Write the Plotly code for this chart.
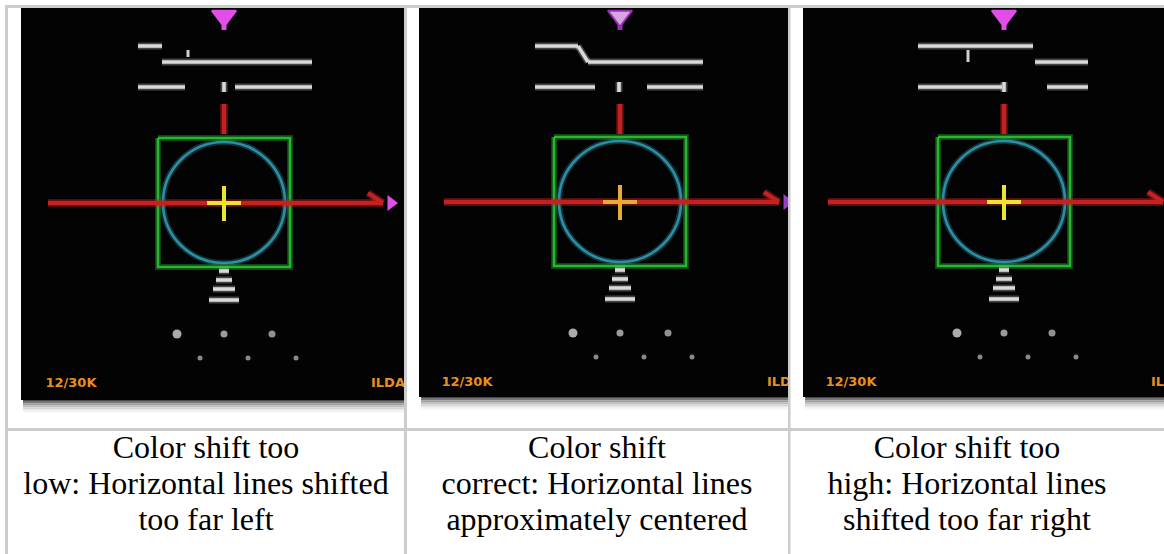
import plotly.graph_objects as go

W, H = 1164, 554

# ---------------- data ----------------
captions = [
    ["Color shift too", "low: Horizontal lines shifted", "too far left"],
    ["Color shift", "correct: Horizontal lines", "approximately centered"],
    ["Color shift too", "high: Horizontal lines", "shifted too far right"],
]
caption_center_x = [206, 597, 967]
caption_line_y = [450, 486, 522]

panel_left = [21, 419, 803]
panel_right = [404, 788, 1164]
panel_bottom = [400, 397, 397]
panel_cx = [224, 620, 1004]
panel_cy = [203, 202, 202]

cross_color = ["#ece62a", "#e8ac34", "#ece62a"]
top_mark_fill = ["#e24ee8", "#d9a4e4", "#e24ee8"]
top_mark_line = ["#e24ee8", "#9a30b4", "#e24ee8"]
side_mark_color = ["#e24ee8", "#9c3cc8", "#e24ee8"]

# horizontal bar ends, relative to panel centre
upper_left_bar = [(-86, -62), (-85, -42), (-86, 29)]
upper_right_bar = [(-62, 88), (-32, 83), (31, 84)]
upper_join = [False, True, False]
upper_tick = [(-36, 50, 57), None, (-36, 50, 62)]
lower_left_bar = [(-86, -39), (-85, -25), (-86, -2)]
lower_right_bar = [(11, 88), (27, 83), (43, 84)]
lower_tick_dx = [0, -1, 0]
upper_y = (46, 62)
lower_y = 87

pyramid_dy = [68, 77, 86, 97]
pyramid_half = [5, 8, 11, 15]
dot_row1_dx = [-47, 0, 48]
dot_row2_dx = [-24, 24, 72]
left_label = ["12/30K", "12/30K", "12/30K"]
right_label = ["ILDA", "ILDA", "ILDA"]

# table grid
grid_color = "#cccccc"
col_borders = [(5, 8), (404, 407), (788, 790.5)]
row_borders = [(5, 8), (428, 431)]

# ---------------- figure ----------------
fig = go.Figure()
shapes = []

# black screenshots with drop shadows
shadow_cols = ["#4a4a4a", "#777777", "#9d9d9d", "#bdbdbd", "#d6d6d6", "#e9e9e9", "#f5f5f5"]
for i in range(3):
    x0, x1, yb = panel_left[i], panel_right[i], panel_bottom[i]
    for k, c in enumerate(shadow_cols):
        shapes.append(dict(type="rect", xref="x", yref="y", x0=x0 + 2, x1=x1,
                           y0=yb + k * 1.8, y1=yb + (k + 1) * 1.8,
                           fillcolor=c, line=dict(width=0), layer="below"))
    shapes.append(dict(type="rect", xref="x", yref="y", x0=x0, x1=x1, y0=8, y1=yb,
                       fillcolor="#030303", line=dict(width=0), layer="below"))
    cx, cy = panel_cx[i], panel_cy[i]
    # teal circle (glow + core)
    shapes.append(dict(type="circle", xref="x", yref="y", x0=cx - 61, x1=cx + 61,
                       y0=cy - 61, y1=cy + 60, line=dict(color="rgba(40,140,160,0.35)", width=6),
                       layer="below"))
    shapes.append(dict(type="circle", xref="x", yref="y", x0=cx - 61, x1=cx + 61,
                       y0=cy - 61, y1=cy + 60, line=dict(color="#2d8ea4", width=2.6),
                       layer="below"))


def add_seg(store, x0, y0, x1, y1):
    store[0] += [x0, x1, None]
    store[1] += [y0, y1, None]


white = [[], []]
white_thin = [[], []]
red = [[], []]
green = [[], []]
for i in range(3):
    cx, cy = panel_cx[i], panel_cy[i]
    a, b = upper_left_bar[i]
    add_seg(white, cx + a, upper_y[0], cx + b, upper_y[0])
    c, d = upper_right_bar[i]
    add_seg(white, cx + c, upper_y[1], cx + d, upper_y[1])
    if upper_join[i]:
        add_seg(white, cx + b, upper_y[0], cx + c, upper_y[1])
    if upper_tick[i] is not None:
        tx, ty0, ty1 = upper_tick[i]
        add_seg(white_thin, cx + tx, ty0, cx + tx, ty1)
    a, b = lower_left_bar[i]
    add_seg(white, cx + a, lower_y, cx + b, lower_y)
    c, d = lower_right_bar[i]
    add_seg(white, cx + c, lower_y, cx + d, lower_y)
    add_seg(white, cx + lower_tick_dx[i], lower_y - 5, cx + lower_tick_dx[i], lower_y + 5)
    for dy, hw in zip(pyramid_dy, pyramid_half):
        add_seg(white, cx - hw, cy + dy, cx + hw, cy + dy)
    # red arrow + red stub
    add_seg(red, cx - 176, cy, cx + 159, cy)
    add_seg(red, cx + 144, cy - 10, cx + 159, cy)
    add_seg(red, cx, 104, cx, 134)
    # green square
    green[0] += [cx - 66, cx + 66, cx + 66, cx - 66, cx - 66, None]
    green[1] += [cy - 65, cy - 65, cy + 64, cy + 64, cy - 65, None]

# glow layers
fig.add_trace(go.Scatter(x=green[0], y=green[1], mode="lines",
                         line=dict(color="rgba(40,190,50,0.35)", width=6), hoverinfo="skip"))
fig.add_trace(go.Scatter(x=green[0], y=green[1], mode="lines",
                         line=dict(color="#27b532", width=2.6), hoverinfo="skip"))
fig.add_trace(go.Scatter(x=red[0], y=red[1], mode="lines",
                         line=dict(color="rgba(200,30,30,0.4)", width=8), hoverinfo="skip"))
fig.add_trace(go.Scatter(x=red[0], y=red[1], mode="lines",
                         line=dict(color="#c42222", width=4.5), hoverinfo="skip"))
fig.add_trace(go.Scatter(x=white[0], y=white[1], mode="lines",
                         line=dict(color="rgba(220,220,220,0.3)", width=7), hoverinfo="skip"))
fig.add_trace(go.Scatter(x=white[0], y=white[1], mode="lines",
                         line=dict(color="#d9d9d9", width=3.6), hoverinfo="skip"))
fig.add_trace(go.Scatter(x=white_thin[0], y=white_thin[1], mode="lines",
                         line=dict(color="#cfcfcf", width=3), hoverinfo="skip"))

for i in range(3):
    cx, cy = panel_cx[i], panel_cy[i]
    # yellow cross
    fig.add_trace(go.Scatter(x=[cx - 17, cx + 17, None, cx, cx], y=[cy, cy, None, cy - 17, cy + 18],
                             mode="lines", line=dict(color=cross_color[i], width=4), hoverinfo="skip"))
    # magenta top marker
    fig.add_trace(go.Scatter(x=[cx, cx], y=[21, 30], mode="lines",
                             line=dict(color=top_mark_line[i], width=5), hoverinfo="skip"))
    fig.add_trace(go.Scatter(x=[cx], y=[16], mode="markers",
                             marker=dict(symbol="triangle-down", size=21, color=top_mark_fill[i],
                                         line=dict(color=top_mark_line[i], width=2)), hoverinfo="skip"))
    # magenta side marker at the arrow end
    fig.add_trace(go.Scatter(x=[cx + 167], y=[cy], mode="markers",
                             marker=dict(symbol="triangle-right", size=14, color=side_mark_color[i],
                                         line=dict(width=0)), hoverinfo="skip"))
    # dots
    fig.add_trace(go.Scatter(x=[cx + d for d in dot_row1_dx], y=[cy + 131] * 3, mode="markers",
                             marker=dict(size=[9, 7, 7], color=["#f4f4f4", "#dddddd", "#cfcfcf"],
                                         line=dict(width=0)), hoverinfo="skip"))
    fig.add_trace(go.Scatter(x=[cx + d for d in dot_row2_dx], y=[cy + 155] * 3, mode="markers",
                             marker=dict(size=5, color="#8a8a8a", line=dict(width=0)), hoverinfo="skip"))
    # orange labels
    fig.add_trace(go.Scatter(x=[cx - 153], y=[cy + 181], mode="text", text=[left_label[i]],
                             textposition="middle center",
                             textfont=dict(family="DejaVu Sans", size=13, color="#e8901c", weight="bold"),
                             hoverinfo="skip"))
    fig.add_trace(go.Scatter(x=[cx + 147], y=[cy + 181], mode="text", text=[right_label[i]],
                             textposition="middle right",
                             textfont=dict(family="DejaVu Sans", size=13, color="#e8901c", weight="bold"),
                             hoverinfo="skip"))

# captions
for i in range(3):
    fig.add_trace(go.Scatter(x=[caption_center_x[i]] * 3, y=caption_line_y, mode="text",
                             text=captions[i], textposition="middle center",
                             textfont=dict(family="Liberation Serif", size=32, color="#000000"),
                             hoverinfo="skip"))

# clip overflowing screenshot content at the cell edges (white padding)
for i in range(2):
    shapes.append(dict(type="rect", xref="x", yref="y", x0=panel_right[i], x1=panel_left[i + 1],
                       y0=8, y1=420, fillcolor="#ffffff", line=dict(width=0), layer="above"))
# table grid
for (a, b) in col_borders:
    shapes.append(dict(type="rect", xref="x", yref="y", x0=a, x1=b, y0=5, y1=H,
                       fillcolor=grid_color, line=dict(width=0), layer="above"))
for (a, b) in row_borders:
    shapes.append(dict(type="rect", xref="x", yref="y", x0=5, x1=W, y0=a, y1=b,
                       fillcolor=grid_color, line=dict(width=0), layer="above"))

fig.update_layout(
    width=W, height=H, autosize=False,
    margin=dict(l=0, r=0, t=0, b=0, pad=0),
    paper_bgcolor="#ffffff", plot_bgcolor="#ffffff",
    showlegend=False, shapes=shapes,
    xaxis=dict(range=[0, W], visible=False, fixedrange=True),
    yaxis=dict(range=[H, 0], visible=False, fixedrange=True),
)

fig.write_html("out.html", config={"displayModeBar": False, "staticPlot": True},
               post_script="document.body.style.margin='0';document.body.style.overflow='hidden';")
